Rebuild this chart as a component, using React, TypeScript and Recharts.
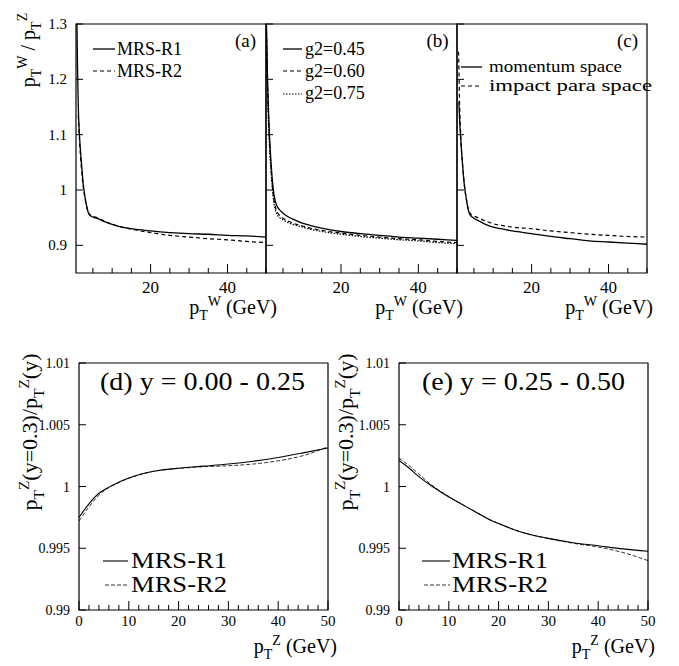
import { LineChart, Line, XAxis, YAxis, ReferenceArea } from "recharts";

// ---------------------------------------------------------------------------
// Data
// ---------------------------------------------------------------------------

// (a) pT^W / pT^Z vs pT^W, PDF dependence
const ptA = [0.85, 1.0, 1.2, 1.5, 2, 2.5, 3, 3.5, 4, 5, 6, 8, 10, 12, 15, 20, 25, 30, 35, 40, 45, 50];
const mrsR1A = [1.3, 1.22, 1.15, 1.1, 1.05, 1.01, 0.985, 0.967, 0.956, 0.951, 0.949, 0.943, 0.938, 0.934, 0.93, 0.926, 0.923, 0.921, 0.92, 0.918, 0.917, 0.915];
const mrsR2A = [null, null, 1.135, 1.09, 1.04, 1.005, 0.982, 0.966, 0.957, 0.953, 0.95, 0.944, 0.938, 0.934, 0.929, 0.923, 0.918, 0.915, 0.912, 0.91, 0.907, 0.905];

// (b) g2 dependence
const ptB = [0.7, 1.0, 1.5, 2, 2.5, 3, 3.5, 4, 5, 6, 8, 10, 12, 15, 20, 25, 30, 35, 40, 45, 50];
const g045 = [1.3, 1.2, 1.1, 1.04, 1.0, 0.98, 0.97, 0.965, 0.958, 0.953, 0.946, 0.94, 0.936, 0.931, 0.925, 0.921, 0.918, 0.915, 0.913, 0.911, 0.909];
const g060 = [1.3, 1.19, 1.09, 1.03, 0.99, 0.97, 0.96, 0.955, 0.949, 0.945, 0.939, 0.935, 0.931, 0.927, 0.922, 0.918, 0.915, 0.912, 0.91, 0.907, 0.905];
const g075 = [1.3, 1.18, 1.08, 1.025, 0.985, 0.965, 0.955, 0.951, 0.946, 0.942, 0.937, 0.933, 0.929, 0.925, 0.92, 0.916, 0.913, 0.91, 0.908, 0.905, 0.903];

// (c) momentum vs impact parameter space
const ptC = [1.0, 1.1, 1.2, 1.5, 2, 2.5, 3, 3.5, 4, 5, 6, 8, 10, 12, 15, 20, 25, 30, 35, 40, 45, 50];
const momentum = [null, 1.16, 1.14, 1.1, 1.05, 1.01, 0.985, 0.965, 0.955, 0.949, 0.945, 0.938, 0.933, 0.93, 0.926, 0.921, 0.916, 0.912, 0.908, 0.906, 0.904, 0.902];
const impact = [1.25, 1.22, 1.18, 1.11, 1.05, 1.01, 0.985, 0.967, 0.958, 0.953, 0.95, 0.944, 0.939, 0.936, 0.933, 0.93, 0.926, 0.923, 0.92, 0.918, 0.916, 0.915];

// (d), (e) pT^Z(y=0.3)/pT^Z(y) vs pT^Z
const ptZ = [0, 2, 4, 6, 8, 10, 12, 14, 16, 18, 20, 25, 30, 35, 40, 45, 50];
const mrsR1D = [0.9975, 0.9986, 0.99945, 0.99995, 1.00035, 1.00068, 1.00095, 1.00115, 1.0013, 1.0014, 1.00148, 1.00165, 1.00182, 1.00205, 1.00235, 1.00272, 1.00312];
const mrsR2D = [0.9972, 0.99835, 0.9993, 0.9999, 1.00032, 1.00066, 1.00094, 1.00114, 1.0013, 1.0014, 1.00147, 1.0016, 1.00168, 1.00182, 1.00208, 1.0025, 1.00322];
const mrsR1E = [1.0021, 1.0015, 1.0008, 1.0002, 0.99965, 0.99915, 0.9987, 0.99825, 0.9978, 0.99735, 0.997, 0.99625, 0.9958, 0.99545, 0.9952, 0.99495, 0.99476];
const mrsR2E = [1.0023, 1.0017, 1.001, 1.0003, 0.9997, 0.9992, 0.9987, 0.99825, 0.9978, 0.99735, 0.997, 0.99625, 0.99578, 0.9954, 0.9951, 0.99465, 0.994];

// ticks
const topXTicks = [5, 10, 15, 20, 25, 30, 35, 40, 45, 50];
const topXMajor = [20, 40];
const topXLabels = [20, 40];
const topYTicks = [0.9, 1, 1.1, 1.2, 1.3];
const botXTicks = [0, 2, 4, 6, 8, 10, 12, 14, 16, 18, 20, 22, 24, 26, 28, 30, 32, 34, 36, 38, 40, 42, 44, 46, 48, 50];
const botXLabels = [0, 10, 20, 30, 40, 50];
const botYTicks = [0.99, 0.995, 1, 1.005, 1.01];

// ---------------------------------------------------------------------------
// Helpers
// ---------------------------------------------------------------------------

const FONT = "'Liberation Serif', 'Times New Roman', serif";
const PAD = 50;
const SOLID = undefined;
const DASH = "4 3";
const DOT = "1.5 1.5";
const THIN_DASH = "4 2";

type Series = { key: string; values: (number | null)[]; dash?: string; width: number };

function buildRows(xs: number[], series: Series[]) {
  return xs.map((x, i) => {
    const row: Record<string, number | null> = { x };
    series.forEach((s) => (row[s.key] = s.values[i]));
    return row;
  });
}

interface PanelProps {
  left: number;
  top: number;
  w: number;
  h: number;
  xs: number[];
  series: Series[];
  xDomain: [number, number];
  yDomain: [number, number];
  xTicks: number[];
  xMajor: number[];
  xLabels: number[];
  yTicks: number[];
  showYLabels: boolean;
  xFont: number;
  yFont: number;
  xLabelDy: number;
}

function Panel(p: PanelProps) {
  const data = buildRows(p.xs, p.series);

  const renderXTick = (t: any) => {
    const v = t.payload.value;
    const major = p.xMajor.includes(v);
    return (
      <g>
        <line x1={t.x} x2={t.x} y1={t.y} y2={t.y - (major ? 9 : 5)} stroke="#000" strokeWidth={1} />
        {p.xLabels.includes(v) && (
          <text x={t.x} y={t.y + p.xLabelDy} textAnchor="middle" fontSize={p.xFont} fontFamily={FONT} fill="#000">
            {v}
          </text>
        )}
      </g>
    );
  };

  const renderYTick = (t: any) => {
    const v = t.payload.value;
    return (
      <g>
        <line x1={t.x} x2={t.x + 7} y1={t.y} y2={t.y} stroke="#000" strokeWidth={1} />
        {p.showYLabels && (
          <text x={t.x - 9} y={t.y + 5} textAnchor="end" fontSize={p.yFont} fontFamily={FONT} fill="#000">
            {String(v)}
          </text>
        )}
      </g>
    );
  };

  return (
    <div style={{ position: "absolute", left: p.left - PAD, top: p.top - PAD }}>
      <LineChart
        width={p.w + 2 * PAD}
        height={p.h + 2 * PAD}
        data={data}
        margin={{ top: PAD, right: PAD, left: 0, bottom: 0 }}
      >
        <XAxis
          dataKey="x"
          type="number"
          domain={p.xDomain}
          ticks={p.xTicks}
          interval={0}
          tickSize={0}
          tickMargin={0}
          tickLine={false}
          axisLine={false}
          tick={renderXTick}
          height={PAD}
          allowDataOverflow
        />
        <YAxis
          type="number"
          domain={p.yDomain}
          ticks={p.yTicks}
          interval={0}
          tickSize={0}
          tickMargin={0}
          tickLine={false}
          axisLine={false}
          tick={renderYTick}
          width={PAD}
          allowDataOverflow
        />
        {p.series.map((s) => (
          <Line
            key={s.key}
            type="monotone"
            dataKey={s.key}
            stroke="#000"
            strokeWidth={s.width}
            strokeDasharray={s.dash}
            dot={false}
            activeDot={false}
            isAnimationActive={false}
          />
        ))}
        <ReferenceArea
          x1={p.xDomain[0]}
          x2={p.xDomain[1]}
          y1={p.yDomain[0]}
          y2={p.yDomain[1]}
          fill="none"
          fillOpacity={0}
          stroke="#000"
          strokeWidth={1.2}
          ifOverflow="visible"
        />
      </LineChart>
    </div>
  );
}

// text with sub/superscripts: kind 0 normal, 1 subscript, 2 superscript
type Seg = [string, number];

function rich(segs: Seg[], fs: number) {
  let prev = 0;
  return segs.map(([t, k], i) => {
    const off = k === 1 ? fs * 0.3 : k === 2 ? -fs * 0.38 : 0;
    const dy = off - prev;
    prev = off;
    return (
      <tspan key={i} dy={dy} fontSize={k ? fs * 0.7 : fs}>
        {t}
      </tspan>
    );
  });
}

const ptWLabel: Seg[] = [["p", 0], ["T", 1], ["W", 2], [" (GeV)", 0]];
const ptZLabel: Seg[] = [["p", 0], ["T", 1], ["Z", 2], [" (GeV)", 0]];
const ratioWZ: Seg[] = [["p", 0], ["T", 1], ["W", 2], [" / p", 0], ["T", 1], ["Z", 2]];
const ratioY: Seg[] = [["p", 0], ["T", 1], ["Z", 2], ["(y=0.3)/p", 0], ["T", 1], ["Z", 2], ["(y)", 0]];

function LegendRow({ x1, x2, y, dash, width, label, tx, ty, fs, len }: any) {
  return (
    <g>
      <line x1={x1} x2={x2} y1={y} y2={y} stroke="#000" strokeWidth={width} strokeDasharray={dash} />
      <text x={tx} y={ty} fontSize={fs} textLength={len} lengthAdjust={len ? "spacingAndGlyphs" : undefined}>
        {label}
      </text>
    </g>
  );
}

// ---------------------------------------------------------------------------
// App
// ---------------------------------------------------------------------------

export default function App() {
  const topY: [number, number] = [0.85, 1.3];
  const topX: [number, number] = [0.6, 50];
  const botY: [number, number] = [0.99, 1.01];
  const botX: [number, number] = [0, 50];

  const topCommon = {
    top: 24,
    h: 249,
    xDomain: topX,
    yDomain: topY,
    xTicks: topXTicks,
    xMajor: topXMajor,
    xLabels: topXLabels,
    yTicks: topYTicks,
    xFont: 17,
    yFont: 15,
    xLabelDy: 20,
  };
  const botCommon = {
    top: 363,
    w: 249,
    h: 247,
    xs: ptZ,
    xDomain: botX,
    yDomain: botY,
    xTicks: botXTicks,
    xMajor: botXLabels,
    xLabels: botXLabels,
    yTicks: botYTicks,
    showYLabels: true,
    xFont: 15,
    yFont: 14,
    xLabelDy: 16,
  };

  return (
    <div
      style={{
        position: "absolute",
        left: 0,
        top: 0,
        width: 679,
        height: 666,
        background: "#fff",
        overflow: "hidden",
        fontFamily: FONT,
      }}
    >
      <Panel
        {...topCommon}
        left={76}
        w={190}
        xs={ptA}
        showYLabels
        series={[
          { key: "r1", values: mrsR1A, dash: SOLID, width: 1.3 },
          { key: "r2", values: mrsR2A, dash: DASH, width: 1.2 },
        ]}
      />
      <Panel
        {...topCommon}
        left={266}
        w={191}
        xs={ptB}
        showYLabels={false}
        series={[
          { key: "g45", values: g045, dash: SOLID, width: 1.3 },
          { key: "g60", values: g060, dash: DASH, width: 1.2 },
          { key: "g75", values: g075, dash: DOT, width: 1.2 },
        ]}
      />
      <Panel
        {...topCommon}
        left={457}
        w={190}
        xs={ptC}
        showYLabels={false}
        series={[
          { key: "mom", values: momentum, dash: SOLID, width: 1.3 },
          { key: "imp", values: impact, dash: DASH, width: 1.2 },
        ]}
      />
      <Panel
        {...botCommon}
        left={79}
        series={[
          { key: "r1", values: mrsR1D, dash: SOLID, width: 1.1 },
          { key: "r2", values: mrsR2D, dash: THIN_DASH, width: 0.8 },
        ]}
      />
      <Panel
        {...botCommon}
        left={399}
        series={[
          { key: "r1", values: mrsR1E, dash: SOLID, width: 1.1 },
          { key: "r2", values: mrsR2E, dash: THIN_DASH, width: 0.8 },
        ]}
      />

      {/* titles, axis labels, legends */}
      <svg
        width={679}
        height={666}
        style={{ position: "absolute", left: 0, top: 0, pointerEvents: "none" }}
        fontFamily={FONT}
        fill="#000"
      >
        <g style={{ whiteSpace: "pre" }}>
          {/* top row */}
          <text transform="translate(35,50) rotate(-90)" textAnchor="middle" fontSize={20}>
            {rich(ratioWZ, 20)}
          </text>
          <text x={277} y={314} textAnchor="end" fontSize={20}>{rich(ptWLabel, 20)}</text>
          <text x={463} y={314} textAnchor="end" fontSize={20}>{rich(ptWLabel, 20)}</text>
          <text x={653} y={314} textAnchor="end" fontSize={20}>{rich(ptWLabel, 20)}</text>

          <text x={245.5} y={47} textAnchor="middle" fontSize={19}>(a)</text>
          <text x={437.5} y={47} textAnchor="middle" fontSize={19}>(b)</text>
          <text x={627.5} y={47} textAnchor="middle" fontSize={19}>(c)</text>

          <LegendRow x1={93} x2={115} y={49} width={1.3} label="MRS-R1" tx={117} ty={55} fs={18} />
          <LegendRow x1={93} x2={115} y={71} dash={DASH} width={1.2} label="MRS-R2" tx={117} ty={77} fs={18} />

          <LegendRow x1={283} x2={302} y={49} width={1.3} label="g2=0.45" tx={305} ty={55} fs={18} />
          <LegendRow x1={283} x2={302} y={71} dash={DASH} width={1.2} label="g2=0.60" tx={305} ty={77} fs={18} />
          <LegendRow x1={283} x2={302} y={94} dash={DOT} width={1.2} label="g2=0.75" tx={305} ty={99} fs={18} />

          <LegendRow x1={461} x2={482} y={67} width={1.3} label="momentum space" tx={489} ty={72} fs={17} len={133} />
          <LegendRow x1={461} x2={482} y={86} dash={DASH} width={1.2} label="impact para space" tx={489} ty={91} fs={17} len={163} />

          {/* bottom row */}
          <text transform="translate(37,432) rotate(-90)" textAnchor="middle" fontSize={22}>
            {rich(ratioY, 22)}
          </text>
          <text transform="translate(353,432) rotate(-90)" textAnchor="middle" fontSize={22}>
            {rich(ratioY, 22)}
          </text>
          <text x={337} y={653} textAnchor="end" fontSize={20}>{rich(ptZLabel, 20)}</text>
          <text x={655} y={653} textAnchor="end" fontSize={20}>{rich(ptZLabel, 20)}</text>

          <text x={100} y={390} fontSize={25} textLength={205} lengthAdjust="spacingAndGlyphs">(d)  y = 0.00 - 0.25</text>
          <text x={422} y={390} fontSize={25} textLength={203} lengthAdjust="spacingAndGlyphs">(e)  y = 0.25 - 0.50</text>

          <LegendRow x1={103} x2={128} y={561} width={1.1} label="MRS-R1" tx={131} ty={568} fs={23} len={96} />
          <LegendRow x1={105} x2={128} y={585} dash={THIN_DASH} width={0.8} label="MRS-R2" tx={131} ty={592} fs={23} len={96} />
          <LegendRow x1={422} x2={450} y={561} width={1.1} label="MRS-R1" tx={452} ty={568} fs={23} len={96} />
          <LegendRow x1={424} x2={450} y={585} dash={THIN_DASH} width={0.8} label="MRS-R2" tx={452} ty={592} fs={23} len={96} />
        </g>
      </svg>
    </div>
  );
}
